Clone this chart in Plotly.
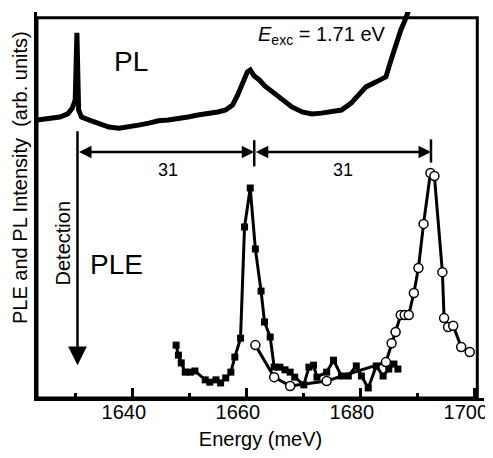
import plotly.graph_objects as go

# ---- data (energy in meV, intensity in arb. units 0..100) ----
pl_energy = [1623.2, 1625.4, 1627.2, 1628.6, 1629.4, 1629.9, 1630.2, 1630.5, 1631.0, 1632.4,
             1634.1, 1635.8, 1637.6, 1639.3, 1641.0, 1642.8, 1644.5, 1646.2, 1648.0, 1649.7,
             1651.4, 1653.2, 1654.9, 1656.3, 1657.5, 1658.4, 1659.3, 1660.1, 1660.6, 1661.3,
             1662.2, 1663.2, 1664.5, 1666.2, 1667.9, 1669.7, 1671.4, 1673.1, 1674.9, 1676.6,
             1678.3, 1679.2, 1680.9, 1682.7, 1684.4, 1685.3, 1686.1, 1687.0, 1687.9, 1688.7]
pl_intensity = [72.0, 72.5, 72.8, 73.6, 75.1, 77.2, 94.6, 74.6, 72.8, 72.0,
                71.0, 70.2, 69.9, 70.2, 70.7, 71.2, 71.8, 72.0, 72.3, 72.8,
                73.3, 73.6, 74.1, 74.6, 75.9, 78.5, 81.9, 84.5, 85.0, 83.4,
                82.4, 80.8, 79.3, 77.2, 75.4, 74.1, 73.6, 73.8, 74.1, 74.6,
                76.4, 78.0, 80.6, 81.9, 83.2, 87.6, 91.5, 95.3, 98.4, 101.8]

ple1_energy = [1647.6, 1648.0, 1648.5, 1649.2, 1650.1, 1650.9, 1652.7, 1653.5, 1654.6, 1655.4,
               1656.3, 1657.2, 1657.9, 1658.9, 1659.6, 1660.6, 1661.5, 1662.5, 1663.1, 1664.1,
               1664.8, 1665.8, 1666.7, 1667.6, 1668.4, 1670.0, 1670.9, 1671.7, 1672.3, 1674.0,
               1675.2, 1676.6, 1677.8, 1679.2, 1680.1, 1681.3, 1682.7, 1683.9, 1684.9, 1685.8,
               1686.5]
ple1_intensity = [13.7, 11.1, 9.1, 6.7, 6.7, 7.0, 4.7, 4.1, 4.7, 3.9,
                  5.2, 6.7, 10.6, 15.5, 44.3, 54.4, 38.6, 27.7, 19.7, 15.8,
                  8.0, 8.0, 7.3, 6.7, 5.4, 3.4, 8.0, 8.5, 5.4, 6.7,
                  9.8, 5.7, 5.7, 8.3, 5.7, 2.6, 8.3, 5.7, 7.5, 8.8,
                  7.5]

ple2_energy = [1661.5, 1664.8, 1667.6, 1674.0, 1684.4, 1685.4, 1686.1, 1687.0, 1687.7, 1688.4,
               1689.3, 1690.1, 1691.0, 1692.2, 1692.9, 1694.3, 1694.6, 1695.3, 1696.2, 1697.6,
               1699.1]
ple2_intensity = [13.7, 5.4, 3.1, 4.4, 9.3, 14.2, 17.1, 21.5, 21.5, 21.5,
                  27.2, 33.7, 45.1, 58.3, 57.5, 32.6, 20.7, 18.4, 18.7, 13.2,
                  11.9]

x_range = [1623.2, 1701.6]
y_range = [0, 100]
major_ticks = [1640, 1660, 1680, 1700]
tick_labels = ["1640", "1660", "1680", "1700"]
label_shift = 1.58  # in the original the tick labels sit slightly left of their ticks

detection_energy = 1630.3
peak_energies = [1630.3, 1661.3, 1692.3]
spacing_labels = ["31", "31"]

FONT = "Liberation Sans, Arial, Helvetica, sans-serif"

fig = go.Figure()

fig.add_trace(go.Scatter(x=pl_energy, y=pl_intensity, mode="lines",
                         line=dict(color="black", width=5), cliponaxis=True,
                         showlegend=False))
fig.add_trace(go.Scatter(x=ple1_energy, y=ple1_intensity, mode="lines+markers",
                         line=dict(color="black", width=3),
                         marker=dict(symbol="square", size=7, color="black"),
                         showlegend=False))
fig.add_trace(go.Scatter(x=ple2_energy, y=ple2_intensity, mode="lines+markers",
                         line=dict(color="black", width=3),
                         marker=dict(symbol="circle", size=9, color="white",
                                     line=dict(color="black", width=1.5)),
                         showlegend=False))
# empty trace so the label axis is always built
fig.add_trace(go.Scatter(x=[], y=[], xaxis="x2", yaxis="y", showlegend=False,
                         hoverinfo="skip"))

# Detection arrow
fig.add_annotation(x=detection_energy, y=8.5, ax=detection_energy, ay=69.5,
                   xref="x", yref="y", axref="x", ayref="y", text="",
                   showarrow=True, arrowhead=2, arrowsize=1.5, arrowwidth=2.5,
                   arrowcolor="black")
fig.add_annotation(x=1627.7, y=40.2, xref="x", yref="y", text="Detection",
                   textangle=-90, showarrow=False, xanchor="center", yanchor="middle",
                   font=dict(family=FONT, size=20, color="black"))

# spacing arrows
dim_y = 63.7
for i in range(2):
    fig.add_annotation(x=peak_energies[i + 1], y=dim_y, ax=peak_energies[i], ay=dim_y,
                       xref="x", yref="y", axref="x", ayref="y", text="",
                       showarrow=True, arrowhead=2, arrowside="end+start",
                       arrowsize=1.0, arrowwidth=2.5, arrowcolor="black")
label_x = [1646.2, 1676.9]
for i in range(2):
    fig.add_annotation(x=label_x[i], y=59.1, xref="x", yref="y", text=spacing_labels[i],
                       showarrow=False, xanchor="center", yanchor="middle",
                       font=dict(family=FONT, size=18, color="black"))
for e, y0, y1 in [(peak_energies[1], 60.0, 66.8), (peak_energies[2], 61.0, 67.0)]:
    fig.add_shape(type="line", x0=e, x1=e, y0=y0, y1=y1, xref="x", yref="y",
                  line=dict(color="black", width=2.5))

# frame (slightly inset on the top and right so it stays in view)
fig.add_shape(type="rect", xref="paper", yref="paper", x0=0, x1=0.985, y0=0, y1=0.985,
              line=dict(color="black", width=3), layer="above")

# labels
fig.add_annotation(x=1639.7, y=87.3, xref="x", yref="y", text="PL", showarrow=False,
                   xanchor="center", yanchor="middle",
                   font=dict(family=FONT, size=28, color="black"))
fig.add_annotation(x=1637.2, y=34.5, xref="x", yref="y", text="PLE", showarrow=False,
                   xanchor="center", yanchor="middle",
                   font=dict(family=FONT, size=28, color="black"))
fig.add_annotation(x=1673.1, y=94.0, xref="x", yref="y",
                   text="<i>E</i><sub>exc</sub> = 1.71 eV", showarrow=False,
                   xanchor="center", yanchor="middle",
                   font=dict(family=FONT, size=20, color="black"))

# y title (paper coords relative to plot area)
fig.add_annotation(x=-0.038, y=0.57, xref="paper", yref="paper",
                   text="PLE and PL Intensity  (arb. units)",
                   xanchor="center", yanchor="middle",
                   textangle=-90, showarrow=False, font=dict(family=FONT, size=20, color="black"))

fig.update_layout(
    width=477, height=442,
    margin=dict(l=29, r=1, t=4, b=52, autoexpand=False),
    plot_bgcolor="white", paper_bgcolor="white",
    font=dict(family=FONT, size=20, color="black"),
    xaxis=dict(range=x_range, tickvals=major_ticks, showticklabels=False,
               ticks="inside", ticklen=10, tickwidth=3, tickcolor="black",
               minor=dict(ticks="inside", ticklen=5, tickwidth=3, dtick=20, tick0=1630,
                          tickcolor="black", showgrid=False),
               showline=True, linewidth=3, linecolor="black", mirror=False,
               showgrid=False, zeroline=False, automargin=False),
    xaxis2=dict(overlaying="x", anchor="y", side="bottom",
                range=[x_range[0] + label_shift, x_range[1] + label_shift],
                tickvals=major_ticks, ticktext=tick_labels, ticks="",
                ticklabeloverflow="allow",
                showline=False, showgrid=False, zeroline=False, automargin=False,
                tickfont=dict(family=FONT, size=20, color="black"),
                title=dict(text="Energy (meV)", standoff=10,
                           font=dict(family=FONT, size=20, color="black"))),
    yaxis=dict(range=y_range, showticklabels=False, ticks="",
               showline=True, linewidth=3, linecolor="black", mirror=False,
               showgrid=False, zeroline=False, automargin=False),
)

fig.write_html("out.html")
